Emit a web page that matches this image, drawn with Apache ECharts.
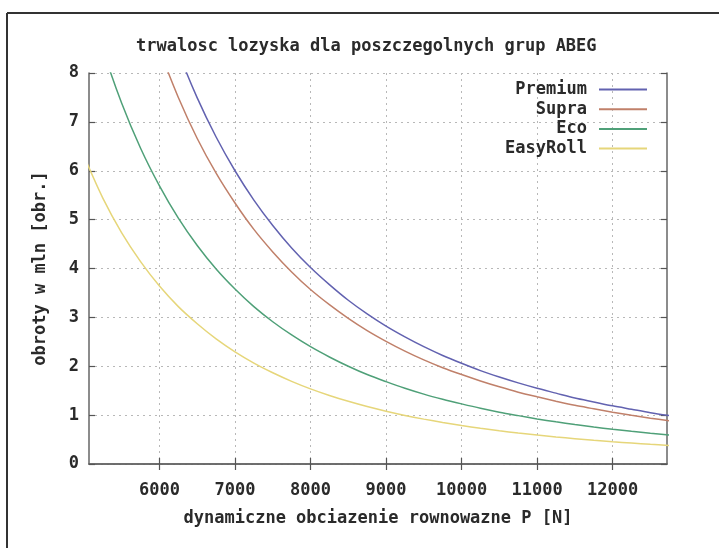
<!DOCTYPE html>
<html><head><meta charset="utf-8">
<script src="https://cdn.jsdelivr.net/npm/echarts@6/dist/echarts.min.js"></script>
<style>html,body{margin:0;padding:0;background:#fff}#c{width:719px;height:548px}</style>
</head><body><div id="c"></div>
<script>
const titleText = 'trwalosc lozyska dla poszczegolnych grup ABEG';
const xName = 'dynamiczne obciazenie rownowazne P [N]';
const yName = 'obroty w mln [obr.]';
const seriesNames = ['Premium', 'Supra', 'Eco', 'EasyRoll'];
const loads = [5000, 5250, 5500, 5750, 6000, 6250, 6500, 6750, 7000, 7250, 7500, 7750, 8000, 8250, 8500, 8750, 9000, 9250, 9500, 9750, 10000, 10250, 10500, 10750, 11000, 11250, 11500, 11750, 12000, 12250, 12500, 12750];
const premium = [null, null, null, null, 9.53, 8.43, 7.49, 6.69, 6.00, 5.40, 4.88, 4.42, 4.02, 3.67, 3.35, 3.07, 2.82, 2.60, 2.40, 2.22, 2.06, 1.91, 1.78, 1.66, 1.55, 1.45, 1.35, 1.27, 1.19, 1.12, 1.05, 0.99];
const supra = [null, null, null, null, 8.47, 7.50, 6.66, 5.95, 5.34, 4.80, 4.34, 3.93, 3.57, 3.26, 2.98, 2.73, 2.51, 2.31, 2.13, 1.97, 1.83, 1.70, 1.58, 1.47, 1.375, 1.285, 1.20, 1.13, 1.06, 0.996, 0.937, 0.883];
const eco = [9.83, 8.49, 7.38, 6.46, 5.69, 5.03, 4.47, 3.99, 3.58, 3.22, 2.91, 2.64, 2.40, 2.19, 2.00, 1.83, 1.685, 1.55, 1.43, 1.325, 1.23, 1.14, 1.06, 0.99, 0.923, 0.863, 0.808, 0.757, 0.711, 0.668, 0.629, 0.593];
const easyRoll = [6.30, 5.44, 4.73, 4.14, 3.64, 3.22, 2.87, 2.56, 2.295, 2.065, 1.866, 1.691, 1.537, 1.402, 1.282, 1.175, 1.080, 0.994, 0.918, 0.849, 0.787, 0.731, 0.680, 0.634, 0.591, 0.553, 0.518, 0.485, 0.455, 0.428, 0.403, 0.380];
const xTicks = [6000, 7000, 8000, 9000, 10000, 11000, 12000];
const xMin = 5067, xMax = 12720;
const yMin = 0, yMax = 8, yStep = 1;

const allValues = [premium, supra, eco, easyRoll];
const colors = ['#6262b0', '#c0806a', '#4fa078', '#e6d67a'];
const font = { fontFamily: 'DejaVu Sans Mono', fontWeight: 'bold', fontSize: 17, color: '#2a2a2a' };

const chart = echarts.init(document.getElementById('c'));
const tickCommon = { inside: true, length: 6, lineStyle: { color: '#555', width: 1.2 } };
const lineCommon = { show: true, lineStyle: { color: '#666', width: 1.5 } };
chart.setOption({
  animation: false,
  backgroundColor: '#fff',
  title: { text: titleText, left: 136, top: 38, padding: 0, textStyle: Object.assign({}, font) },
  grid: { left: 89, right: 52, top: 73, bottom: 84, containLabel: false },
  legend: seriesNames.map((n, i) => ({
    data: [n], right: 72, top: 81 + i * 19.7, orient: 'horizontal', align: 'right',
    itemWidth: 48, itemHeight: 2, icon: 'rect', padding: 0, selectedMode: false,
    textStyle: Object.assign({}, font, { padding: [0, 7, 0, 0], lineHeight: 17 })
  })),
  xAxis: [{
    type: 'value', min: xMin, max: xMax, position: 'bottom',
    name: xName, nameLocation: 'middle', nameGap: 46, nameTextStyle: Object.assign({}, font),
    axisLine: lineCommon,
    axisTick: Object.assign({ customValues: xTicks }, tickCommon),
    axisLabel: Object.assign({ customValues: xTicks, margin: 18, formatter: v => String(v) }, font),
    splitLine: { show: true, lineStyle: { color: '#b8b8b8', width: 1, type: [2, 4] } }
  }, {
    type: 'value', min: xMin, max: xMax, position: 'top',
    axisLine: lineCommon,
    axisTick: Object.assign({ customValues: xTicks }, tickCommon),
    axisLabel: { show: false }, splitLine: { show: false }
  }],
  yAxis: [{
    type: 'value', min: yMin, max: yMax, interval: yStep, position: 'left',
    name: yName, nameLocation: 'middle', nameGap: 40, nameRotate: 90, nameTextStyle: Object.assign({}, font),
    axisLine: lineCommon, axisTick: tickCommon,
    axisLabel: Object.assign({ margin: 10 }, font),
    splitLine: { show: true, lineStyle: { color: '#b8b8b8', width: 1, type: [2, 4] } }
  }, {
    type: 'value', min: yMin, max: yMax, interval: yStep, position: 'right',
    axisLine: lineCommon, axisTick: tickCommon,
    axisLabel: { show: false }, splitLine: { show: false }
  }],
  series: seriesNames.map((n, i) => ({
    name: n, type: 'line', xAxisIndex: 0, yAxisIndex: 0,
    data: allValues[i].map((v, j) => [loads[j], v]),
    symbol: 'none', showSymbol: false, smooth: 0.3, clip: true,
    color: colors[i], lineStyle: { color: colors[i], width: 1.5 }
  })),
  graphic: [
    { type: 'line', shape: { x1: 7, y1: 13, x2: 719, y2: 13 }, style: { stroke: '#333', lineWidth: 2 } },
    { type: 'line', shape: { x1: 7, y1: 13, x2: 7, y2: 548 }, style: { stroke: '#333', lineWidth: 2 } }
  ]
});
</script></body></html>
